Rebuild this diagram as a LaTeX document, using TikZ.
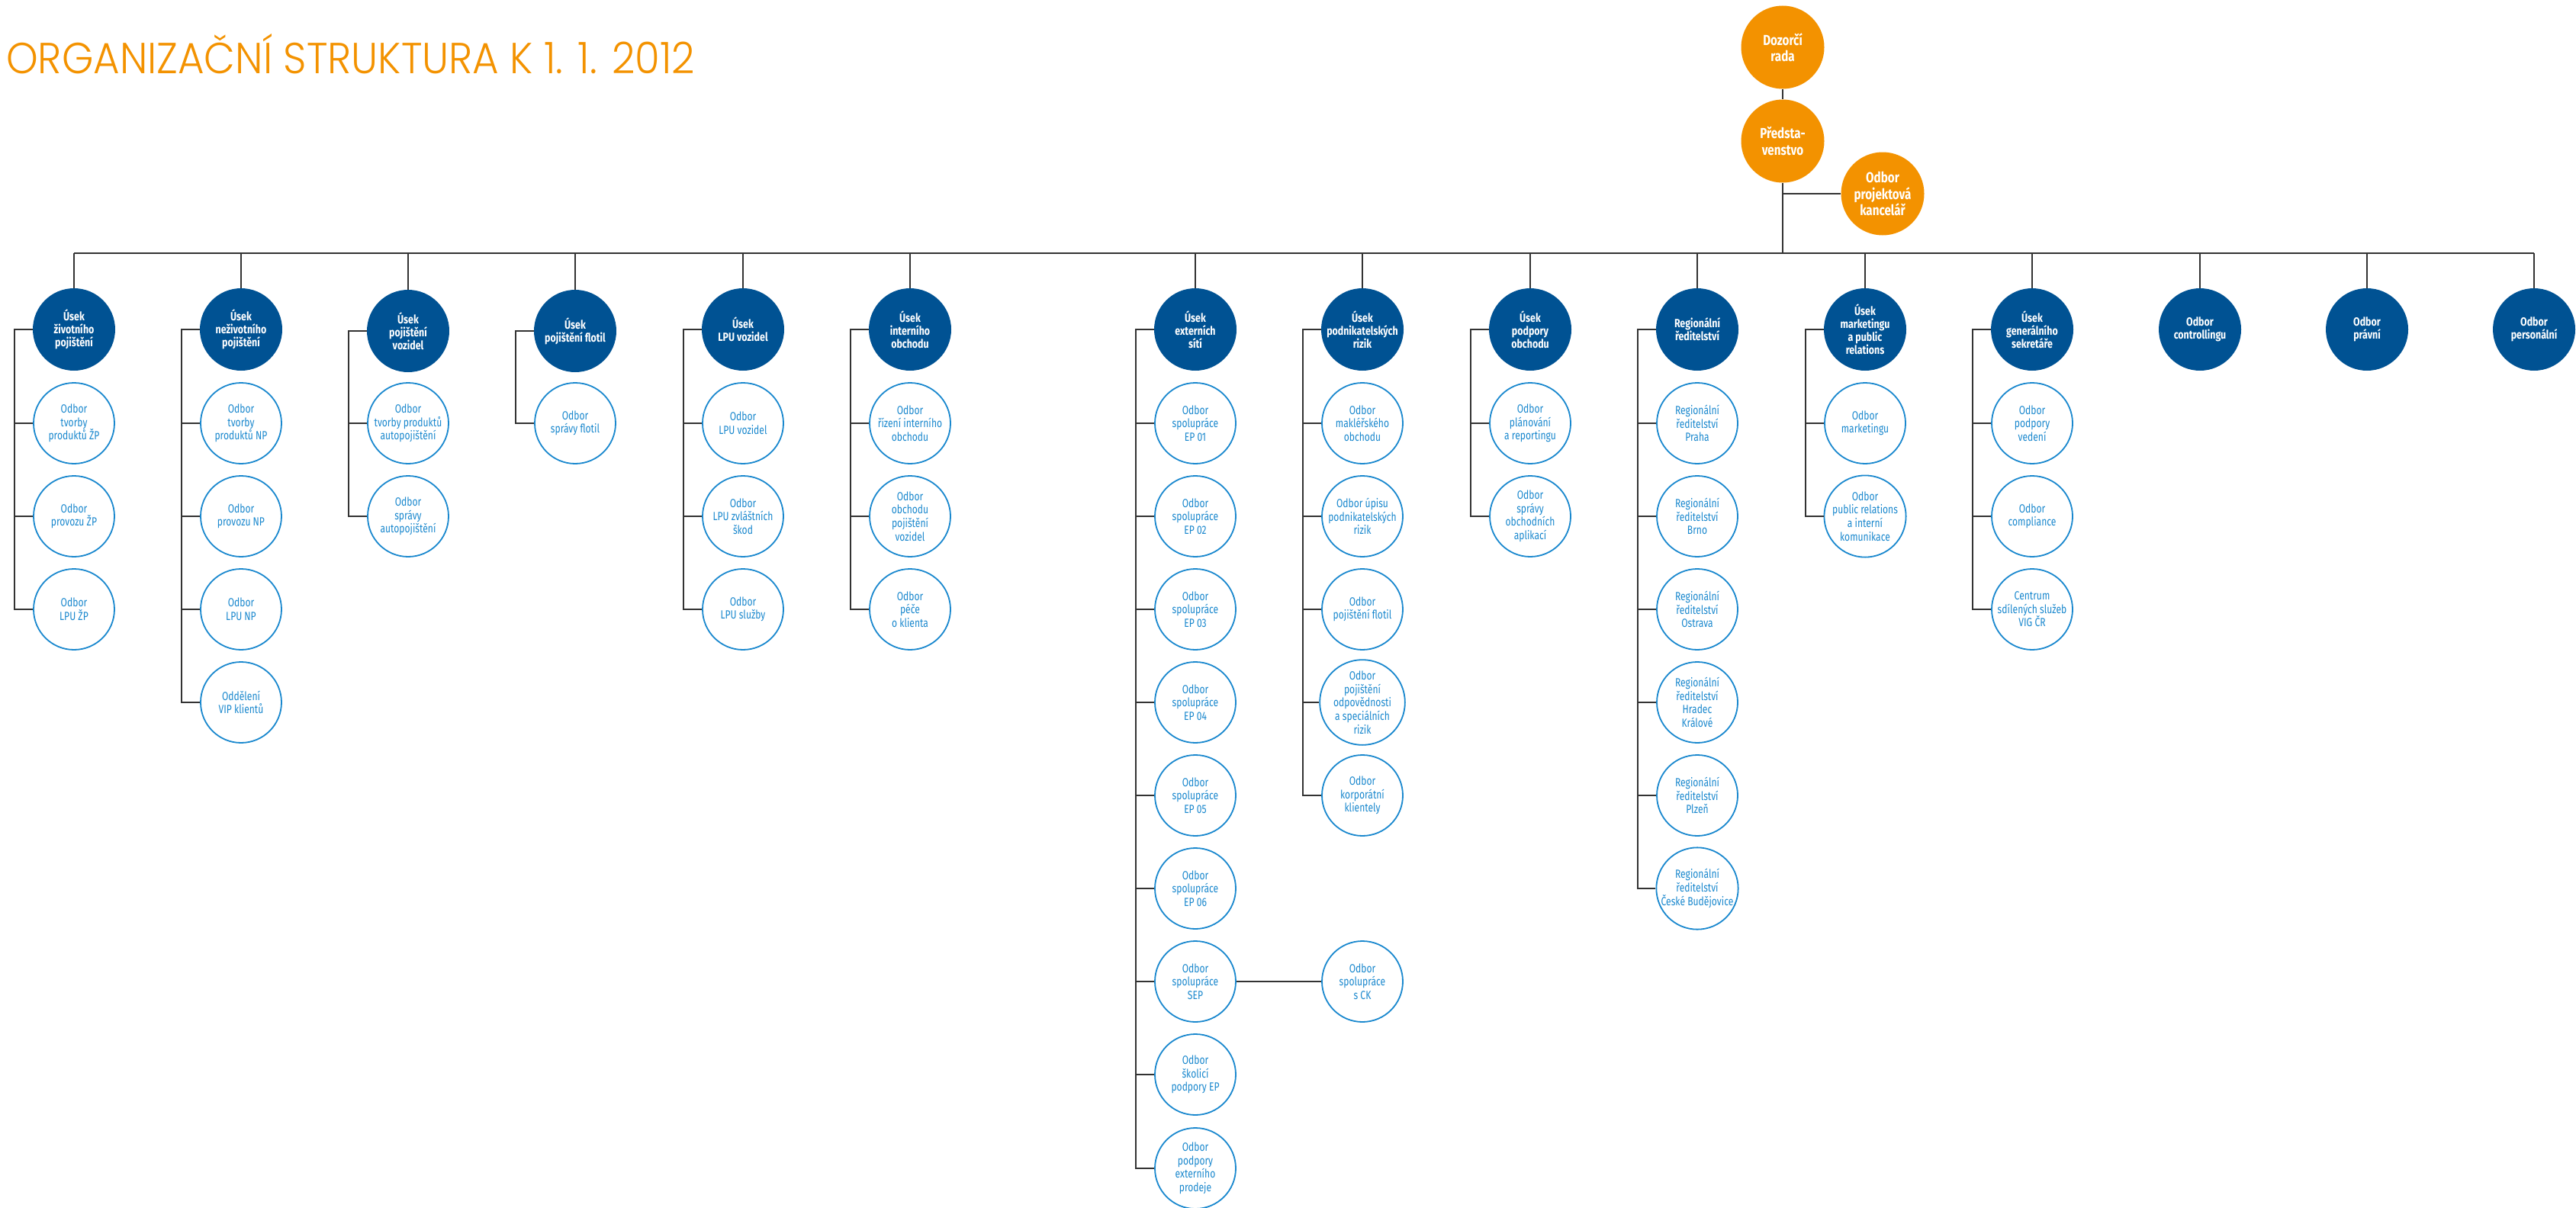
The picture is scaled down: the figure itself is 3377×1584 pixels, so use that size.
\documentclass[tikz,border=0pt]{standalone}
\usepackage{fontspec}
\newfontfamily\nfont[FakeStretch=0.78]{Fira Sans}
\newfontfamily\hfont[FakeStretch=0.80]{Fira Sans}
\newfontfamily\ofont[FakeStretch=0.80]{Fira Sans}
\newfontfamily\tfont[FakeStretch=0.93]{Poppins Light}
\definecolor{hblue}{RGB}{0,82,147}
\definecolor{lblue}{RGB}{26,136,206}
\definecolor{oran}{RGB}{243,146,0}
\newcommand\mykid[4]{\node[sub] (#1) at (#2,#3) {#4};}
\newcommand\myhead[4]{\node[head] (#1) at (#2,#3) {#4};}
\begin{document}
\begin{tikzpicture}[x=1pt,y=-1pt,
  head/.style={circle, fill=hblue, text=white, minimum size=108pt, inner sep=0pt, align=center, font=\hfont\bfseries\fontsize{15.5}{17}\selectfont},
  sub/.style={circle, draw=lblue, line width=1.8pt, fill=white, text=lblue, minimum size=106pt, inner sep=0pt, align=center, font=\nfont\fontsize{15.5}{17.6}\selectfont},
  topn/.style={circle, fill=oran, text=white, minimum size=109pt, inner sep=0pt, align=center, font=\ofont\bfseries\fontsize{19}{21.5}\selectfont},
  conn/.style={draw=black!80, line width=1.8pt},
  bus/.style={draw=black!80, line width=2.6pt}]
\useasboundingbox (0,0) rectangle (3377,1584);

\node[anchor=base west, inner sep=0pt, text=oran, font=\tfont\fontsize{57}{60}\selectfont] (title) at (8,97) {ORGANIZAČNÍ STRUKTURA K 1. 1. 2012};

% top
\node[topn] (dr) at (2337,62) {Dozorčí\\rada};
\node[topn] (pr) at (2337,185) {Předsta-\\venstvo};
\node[topn] (pk) at (2468,254) {Odbor\\projektová\\kancelář};
\coordinate (busL) at (97,332);
\coordinate (busR) at (3322,332);
\draw[bus] (busL) -- (busR);
\draw[conn] (dr) -- (pr);
\draw[conn] (pr.south) -- (pr.south |- busL);
\draw[conn] (pk.west) -- (pk.west -| pr.south);

% heads
\myhead{h1}{97}{432}{Úsek\\životního\\pojištění}
\myhead{h2}{316}{432}{Úsek\\neživotního\\pojištění}
\myhead{h3}{535}{434}{Úsek\\pojištění\\vozidel}
\myhead{h4}{754}{434}{Úsek\\pojištění flotil}
\myhead{h5}{974}{432}{Úsek\\LPU vozidel}
\myhead{h6}{1193}{432}{Úsek\\interního\\obchodu}
\myhead{h7}{1567}{432}{Úsek\\externích\\sítí}
\myhead{h8}{1786}{432}{Úsek\\podnikatelských\\rizik}
\myhead{h9}{2006}{432}{Úsek\\podpory\\obchodu}
\myhead{h10}{2225}{432}{Regionální\\ředitelství}
\myhead{h11}{2445}{432}{Úsek\\marketingu\\a public\\relations}
\myhead{h12}{2664}{432}{Úsek\\generálního\\sekretáře}
\myhead{h13}{2884}{432}{Odbor\\controllingu}
\myhead{h14}{3103}{432}{Odbor\\právní}
\myhead{h15}{3322}{432}{Odbor\\personální}
\foreach \h in {h1,h2,h3,h4,h5,h6,h7,h8,h9,h10,h11,h12,h13,h14,h15}
  \draw[conn] (\h.north) -- (\h.north |- busL);

% column 1
\mykid{c1a}{97}{555}{Odbor\\tvorby\\produktů ŽP}
\mykid{c1b}{97}{677}{Odbor\\provozu ŽP}
\mykid{c1c}{97}{799}{Odbor\\LPU ŽP}
% column 2
\mykid{c2a}{316}{555}{Odbor\\tvorby\\produktů NP}
\mykid{c2b}{316}{677}{Odbor\\provozu NP}
\mykid{c2c}{316}{799}{Odbor\\LPU NP}
\mykid{c2d}{316}{921}{Oddělení\\VIP klientů}
% column 3
\mykid{c3a}{535}{555}{Odbor\\tvorby produktů\\autopojištění}
\mykid{c3b}{535}{677}{Odbor\\správy\\autopojištění}
% column 4
\mykid{c4a}{754}{555}{Odbor\\správy flotil}
% column 5
\mykid{c5a}{974}{555}{Odbor\\LPU vozidel}
\mykid{c5b}{974}{677}{Odbor\\LPU zvláštních\\škod}
\mykid{c5c}{974}{799}{Odbor\\LPU služby}
% column 6
\mykid{c6a}{1193}{555}{Odbor\\řízení interního\\obchodu}
\mykid{c6b}{1193}{677}{Odbor\\obchodu\\pojištění\\vozidel}
\mykid{c6c}{1193}{799}{Odbor\\péče\\o klienta}
% column 7
\mykid{c7a}{1567}{555}{Odbor\\spolupráce\\EP 01}
\mykid{c7b}{1567}{677}{Odbor\\spolupráce\\EP 02}
\mykid{c7c}{1567}{799}{Odbor\\spolupráce\\EP 03}
\mykid{c7d}{1567}{921}{Odbor\\spolupráce\\EP 04}
\mykid{c7e}{1567}{1043}{Odbor\\spolupráce\\EP 05}
\mykid{c7f}{1567}{1165}{Odbor\\spolupráce\\EP 06}
\mykid{c7g}{1567}{1287}{Odbor\\spolupráce\\SEP}
\mykid{c7h}{1567}{1409}{Odbor\\školicí\\podpory EP}
\mykid{c7i}{1567}{1532}{Odbor\\podpory\\externího\\prodeje}
\mykid{ck}{1786}{1287}{Odbor\\spolupráce\\s CK}
% column 8
\mykid{c8a}{1786}{555}{Odbor\\makléřského\\obchodu}
\mykid{c8b}{1786}{677}{Odbor úpisu\\podnikatelských\\rizik}
\mykid{c8c}{1786}{799}{Odbor\\pojištění flotil}
\mykid{c8d}{1786}{921}{Odbor\\pojištění\\odpovědnosti\\a speciálních\\rizik}
\mykid{c8e}{1786}{1043}{Odbor\\korporátní\\klientely}
% column 9
\mykid{c9a}{2006}{555}{Odbor\\plánování\\a reportingu}
\mykid{c9b}{2006}{677}{Odbor\\správy\\obchodních\\aplikací}
% column 10
\mykid{c10a}{2225}{555}{Regionální\\ředitelství\\Praha}
\mykid{c10b}{2225}{677}{Regionální\\ředitelství\\Brno}
\mykid{c10c}{2225}{799}{Regionální\\ředitelství\\Ostrava}
\mykid{c10d}{2225}{921}{Regionální\\ředitelství\\Hradec\\Králové}
\mykid{c10e}{2225}{1043}{Regionální\\ředitelství\\Plzeň}
\mykid{c10f}{2225}{1165}{Regionální\\ředitelství\\České Budějovice}
% column 11
\mykid{c11a}{2445}{555}{Odbor\\marketingu}
\mykid{c11b}{2445}{677}{Odbor\\public relations\\a interní\\komunikace}
% column 12
\mykid{c12a}{2664}{555}{Odbor\\podpory\\vedení}
\mykid{c12b}{2664}{677}{Odbor\\compliance}
\mykid{c12c}{2664}{799}{Centrum\\sdílených služeb\\VIG ČR}

% spines
\draw[conn] (h1.west) -- ++(-24,0) coordinate (s1) |- (c1c.west);
\foreach \c in {c1a,c1b} \draw[conn] (\c.west) -- (\c.west -| s1);
\draw[conn] (h2.west) -- ++(-24,0) coordinate (s2) |- (c2d.west);
\foreach \c in {c2a,c2b,c2c} \draw[conn] (\c.west) -- (\c.west -| s2);
\draw[conn] (h3.west) -- ++(-24,0) coordinate (s3) |- (c3b.west);
\foreach \c in {c3a} \draw[conn] (\c.west) -- (\c.west -| s3);
\draw[conn] (h4.west) -- ++(-24,0) coordinate (s4) |- (c4a.west);
\draw[conn] (h5.west) -- ++(-24,0) coordinate (s5) |- (c5c.west);
\foreach \c in {c5a,c5b} \draw[conn] (\c.west) -- (\c.west -| s5);
\draw[conn] (h6.west) -- ++(-24,0) coordinate (s6) |- (c6c.west);
\foreach \c in {c6a,c6b} \draw[conn] (\c.west) -- (\c.west -| s6);
\draw[conn] (h7.west) -- ++(-24,0) coordinate (s7) |- (c7i.west);
\foreach \c in {c7a,c7b,c7c,c7d,c7e,c7f,c7g,c7h} \draw[conn] (\c.west) -- (\c.west -| s7);
\draw[conn] (c7g.east) -- (ck.west);
\draw[conn] (h8.west) -- ++(-24,0) coordinate (s8) |- (c8e.west);
\foreach \c in {c8a,c8b,c8c,c8d} \draw[conn] (\c.west) -- (\c.west -| s8);
\draw[conn] (h9.west) -- ++(-24,0) coordinate (s9) |- (c9b.west);
\foreach \c in {c9a} \draw[conn] (\c.west) -- (\c.west -| s9);
\draw[conn] (h10.west) -- ++(-24,0) coordinate (s10) |- (c10f.west);
\foreach \c in {c10a,c10b,c10c,c10d,c10e} \draw[conn] (\c.west) -- (\c.west -| s10);
\draw[conn] (h11.west) -- ++(-24,0) coordinate (s11) |- (c11b.west);
\foreach \c in {c11a} \draw[conn] (\c.west) -- (\c.west -| s11);
\draw[conn] (h12.west) -- ++(-24,0) coordinate (s12) |- (c12c.west);
\foreach \c in {c12a,c12b} \draw[conn] (\c.west) -- (\c.west -| s12);
\end{tikzpicture}
\end{document}
